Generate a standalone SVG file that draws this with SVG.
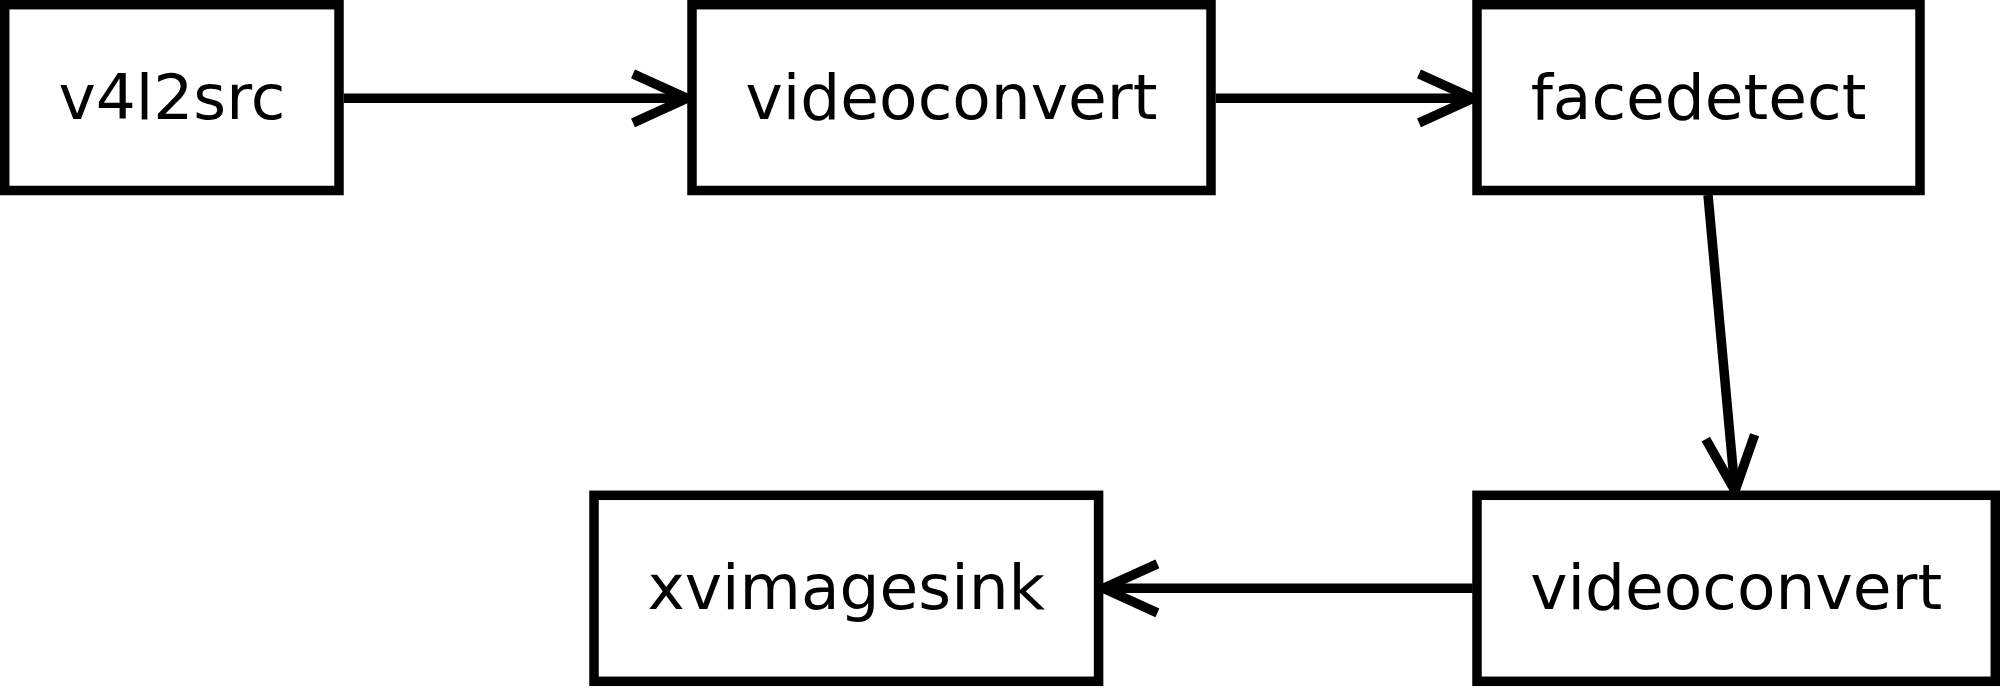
<svg xmlns="http://www.w3.org/2000/svg" width="2000" height="688" viewBox="0 0 2000 688">
<style>
.node rect{fill:#fff;stroke:#000;stroke-width:9.5}
.node text{font-family:"DejaVu Sans",sans-serif;font-size:63px;fill:#000;text-anchor:middle}
.edge{fill:none;stroke:#000;stroke-width:9.5;stroke-linejoin:miter}
</style>
<rect width="2000" height="688" fill="#fff"/>
<g id="connectors">
<line class="edge" x1="343.8" y1="98.3" x2="687" y2="98.3"/>
<polyline class="edge" points="633,73.8 687,98.3 633,122.8"/>
<line class="edge" x1="1215.8" y1="98.3" x2="1473" y2="98.3"/>
<polyline class="edge" points="1419,73.8 1473,98.3 1419,122.8"/>
<line class="edge" x1="1708" y1="195" x2="1735" y2="490.7"/>
<polyline class="edge" points="1705.8,439.1 1735,490.7 1754.6,434.7"/>
<line class="edge" x1="1472.7" y1="588.3" x2="1103.4" y2="588.3"/>
<polyline class="edge" points="1157.4,563.8 1103.4,588.3 1157.4,612.8"/>
</g>
<g id="v4l2src" class="node"><rect x="4.7" y="4.7" width="334.3" height="185.8"/><text x="171.9" y="119">v4l2src</text></g>
<g id="videoconvert1" class="node"><rect x="692" y="4.7" width="519" height="185.8"/><text x="951.5" y="119">videoconvert</text></g>
<g id="facedetect" class="node"><rect x="1477" y="4.7" width="443" height="185.8"/><text x="1698.5" y="119">facedetect</text></g>
<g id="xvimagesink" class="node"><rect x="594" y="495.3" width="504.6" height="186"/><text x="846.3" y="609.3">xvimagesink</text></g>
<g id="videoconvert2" class="node"><rect x="1477" y="495.3" width="518.3" height="186"/><text x="1736.2" y="609.3">videoconvert</text></g>
</svg>
